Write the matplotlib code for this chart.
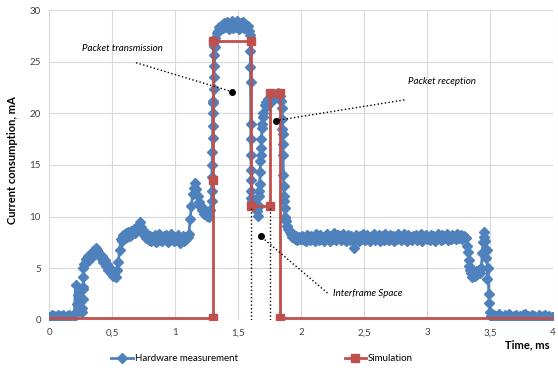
import numpy as np
import matplotlib
matplotlib.use("Agg")
import matplotlib.pyplot as plt

plt.rcParams['font.family'] = ['Lato', 'DejaVu Sans']

# hardware measurement, sampled every 0.01 ms from 0 to 4 ms
hw_ma = [
    0.3, 0.1, 0.5, 0.2, 0.4, 0.1, 0.3, 0.5, 0.2, 0.4,
    0.2, 0.5, 0.1, 0.3, 0.4, 0.2, 0.5, 0.1, 0.3, 0.2,
    0.6, 3.4, 1.5, 2.4, 0.9, 1.8, 1.2, 3.0, 5.4, 5.9,
    5.6, 6.2, 5.8, 6.4, 6.1, 6.7, 6.5, 7.0, 6.8, 6.6,
    6.4, 6.0, 6.2, 5.6, 5.8, 5.2, 5.4, 4.8, 5.0, 4.5,
    4.7, 4.3, 4.6, 4.2, 4.8, 5.6, 6.8, 7.8, 7.6, 8.2,
    7.9, 8.4, 8.0, 8.5, 8.1, 8.6, 8.3, 8.8, 8.4, 8.9,
    8.7, 9.2, 9.5, 9.0, 8.6, 8.2, 8.5, 7.9, 8.1, 7.7,
    8.1, 7.6, 8.0, 7.8, 8.2, 7.5, 7.9, 8.3, 7.7, 8.0,
    7.6, 8.1, 7.8, 8.2, 7.5, 8.0, 7.7, 8.3, 7.8, 7.6,
    8.0, 7.7, 8.2, 7.8, 7.4, 7.9, 8.1, 7.6, 8.0, 7.8,
    8.0, 8.3, 9.8, 11.0, 12.2, 12.8, 13.3, 12.7, 12.0, 11.4,
    11.0, 10.6, 10.8, 10.3, 10.5, 10.1, 10.4, 10.0, 10.6, 11.5,
    21.0, 26.5, 27.3, 27.8, 28.0, 28.4, 28.2, 28.6, 28.3, 28.7,
    28.4, 28.8, 28.5, 28.2, 28.6, 28.9, 28.3, 28.7, 28.4, 28.9,
    28.5, 28.2, 28.7, 28.4, 28.8, 28.3, 28.6, 28.2, 28.5, 28.0,
    19.0, 11.5, 11.0, 11.6, 10.8, 10.5, 10.1, 12.5, 16.0, 18.6,
    20.0, 20.8, 21.1, 20.7, 21.4, 21.0, 21.6, 21.3, 21.8, 21.5,
    21.9, 21.6, 22.0, 21.7, 21.2, 18.5, 14.0, 10.8, 9.6, 9.1,
    8.8, 8.5, 8.3, 8.0, 8.3, 7.8, 8.1, 7.7, 8.0, 7.8,
    7.8, 8.1, 7.7, 8.0, 7.6, 8.2, 7.9, 7.7, 8.1, 7.8,
    8.0, 7.6, 8.3, 7.9, 7.7, 8.2, 7.8, 8.0, 7.6, 8.1,
    7.8, 8.3, 7.9, 7.6, 8.1, 7.8, 8.4, 7.9, 7.7, 8.2,
    7.9, 8.1, 7.7, 8.3, 7.8, 8.0, 7.6, 8.2, 7.9, 7.7,
    8.1, 7.7, 7.0, 7.8, 8.2, 7.9, 7.6, 8.1, 7.8, 8.3,
    7.9, 7.7, 8.2, 7.8, 8.0, 7.6, 8.1, 7.9, 8.3, 7.7,
    8.0, 7.8, 8.2, 7.6, 8.1, 7.9, 7.7, 8.3, 7.8, 8.0,
    7.7, 8.2, 7.9, 8.1, 7.6, 8.0, 7.8, 8.3, 7.9, 7.7,
    8.1, 7.8, 8.3, 7.9, 7.6, 8.2, 7.8, 8.0, 7.7, 8.1,
    7.9, 8.2, 7.7, 8.0, 7.8, 8.3, 7.6, 8.1, 7.9, 8.2,
    7.8, 8.0, 7.7, 8.2, 7.9, 8.1, 7.6, 8.0, 7.8, 8.3,
    7.9, 7.7, 8.2, 7.8, 8.1, 7.9, 8.3, 7.7, 8.0, 7.8,
    8.2, 7.9, 8.1, 7.8, 8.3, 7.9, 8.0, 8.2, 7.8, 8.1,
    8.0, 7.9, 7.2, 5.8, 4.8, 4.5, 4.2, 4.6, 4.3, 4.7,
    4.4, 4.8, 4.5, 5.0, 6.5, 8.5, 7.6, 6.0, 4.0, 2.5,
    0.8, 0.4, 0.2, 0.5, 0.1, 0.4, 0.3, 0.6, 0.2, 0.4,
    0.3, 0.1, 0.5, 0.2, 0.4, 0.6, 0.2, 0.3, 0.1, 0.4,
    0.2, 0.5, 0.3, 0.1, 0.4, 0.2, 0.5, 0.3, 0.6, 0.2,
    0.4, 0.1, 0.3, 0.5, 0.2, 0.4, 0.1, 0.3, 0.2, 0.5,
    0.3, 0.2, 0.4, 0.1, 0.5, 0.3, 0.2, 0.4, 0.1, 0.3,
    0.3,
]
hw_t = [i / 100 for i in range(len(hw_ma))]

# extra fast samples on the steep edges
edge_t = [0.265, 0.267, 0.269, 0.271, 0.273,
          1.290, 1.292, 1.294, 1.296, 1.298, 1.300, 1.302, 1.304, 1.306, 1.308, 1.310, 1.312, 1.314,
          1.596, 1.597, 1.598, 1.599, 1.601, 1.602, 1.603, 1.604, 1.605, 1.606,
          1.665, 1.668, 1.672, 1.675, 1.678, 1.682, 1.686, 1.692, 1.696,
          1.848, 1.851, 1.853, 1.855, 1.858, 1.862, 1.864, 1.866, 1.872, 1.875,
          1.320, 3.325, 3.335, 3.445, 3.455, 3.475, 3.485, 3.495]
edge_ma = [0.8, 2.0, 3.2, 4.2, 5.0,
           12.5, 13.8, 15.0, 16.3, 17.6, 18.8, 20.0, 21.2, 22.4, 23.5, 24.6, 25.6, 26.4,
           27.6, 26.0, 24.5, 23.0, 17.5, 16.0, 14.5, 13.5, 12.5, 11.8,
           11.0, 12.0, 13.2, 14.3, 15.4, 16.6, 17.5, 19.0, 19.6,
           20.5, 19.5, 18.0, 17.0, 16.0, 13.0, 12.0, 11.5, 10.0, 9.8,
           27.0, 6.6, 5.2, 7.5, 8.0, 6.8, 5.0, 1.6]

sim_t = [0, 1.3, 1.3, 1.3, 1.6, 1.6, 1.75, 1.75, 1.835, 1.835, 4]
sim_ma = [0.2, 0.2, 13.5, 27, 27, 11, 11, 22, 22, 0.2, 0.2]

t_all = np.array(hw_t + edge_t)
ma_all = np.array(hw_ma + edge_ma)
order = np.argsort(t_all, kind='stable')

blue = '#4F81BD'
red = '#C0504D'

fig = plt.figure(figsize=(5.58, 3.72), dpi=100)
ax = fig.add_axes([0.088, 0.14, 0.903, 0.833])

ax.plot(t_all[order], ma_all[order], color=blue, lw=2, marker='D', ms=4.6,
        mec=blue, mfc=blue, label='Hardware measurement', zorder=3)
ax.plot(sim_t, sim_ma, color=red, lw=2, marker='s', ms=6,
        markevery=list(range(1, len(sim_t) - 1)), label='Simulation', zorder=4)

# interframe space markers
ax.plot([1.6, 1.6], [0, 11], color='black', ls=':', lw=1, zorder=5)
ax.plot([1.75, 1.75], [0, 11], color='black', ls=':', lw=1, zorder=5)

# annotations
notes = [
    ('Packet transmission', (0.58, 26.3), (0.69, 24.9), (1.45, 22.1), 'center'),
    ('Packet reception', (3.12, 23.1), (2.82, 21.3), (1.80, 19.3), 'center'),
    ('Interframe Space', (2.25, 2.6), (2.21, 2.6), (1.68, 8.1), 'left'),
]
for txt, pos, start, dot, ha in notes:
    ax.text(pos[0], pos[1], txt, fontsize=7, style='italic', ha=ha, va='center', zorder=6)
    ax.plot([start[0], dot[0]], [start[1], dot[1]], color='black', ls=':', lw=1, zorder=6)
    ax.plot(dot[0], dot[1], 'o', color='black', ms=4, zorder=7)

ax.set_xlim(0, 4)
ax.set_ylim(0, 30)
ax.set_xticks(np.arange(0, 4.01, 0.5))
ax.set_xticklabels(['0', '0,5', '1', '1,5', '2', '2,5', '3', '3,5', '4'])
ax.set_yticks(range(0, 31, 5))
ax.tick_params(length=0, labelsize=7, colors='#404040', pad=6)
ax.grid(True, color='#D9D9D9', lw=0.8)
ax.set_axisbelow(True)
for s in ax.spines.values():
    s.set_visible(False)

fig.text(0.022, 0.57, 'Current consumption, mA', rotation=90, fontsize=8,
         fontweight='bold', ha='center', va='center')
fig.text(0.945, 0.072, 'Time, ms', fontsize=8, fontweight='bold', ha='center', va='center')

fig.legend(loc='center', bbox_to_anchor=(0.47, 0.035), ncol=2, frameon=False,
           fontsize=7, columnspacing=11, handlelength=2.2, handletextpad=0.2)

fig.savefig('out.png', dpi=100)
